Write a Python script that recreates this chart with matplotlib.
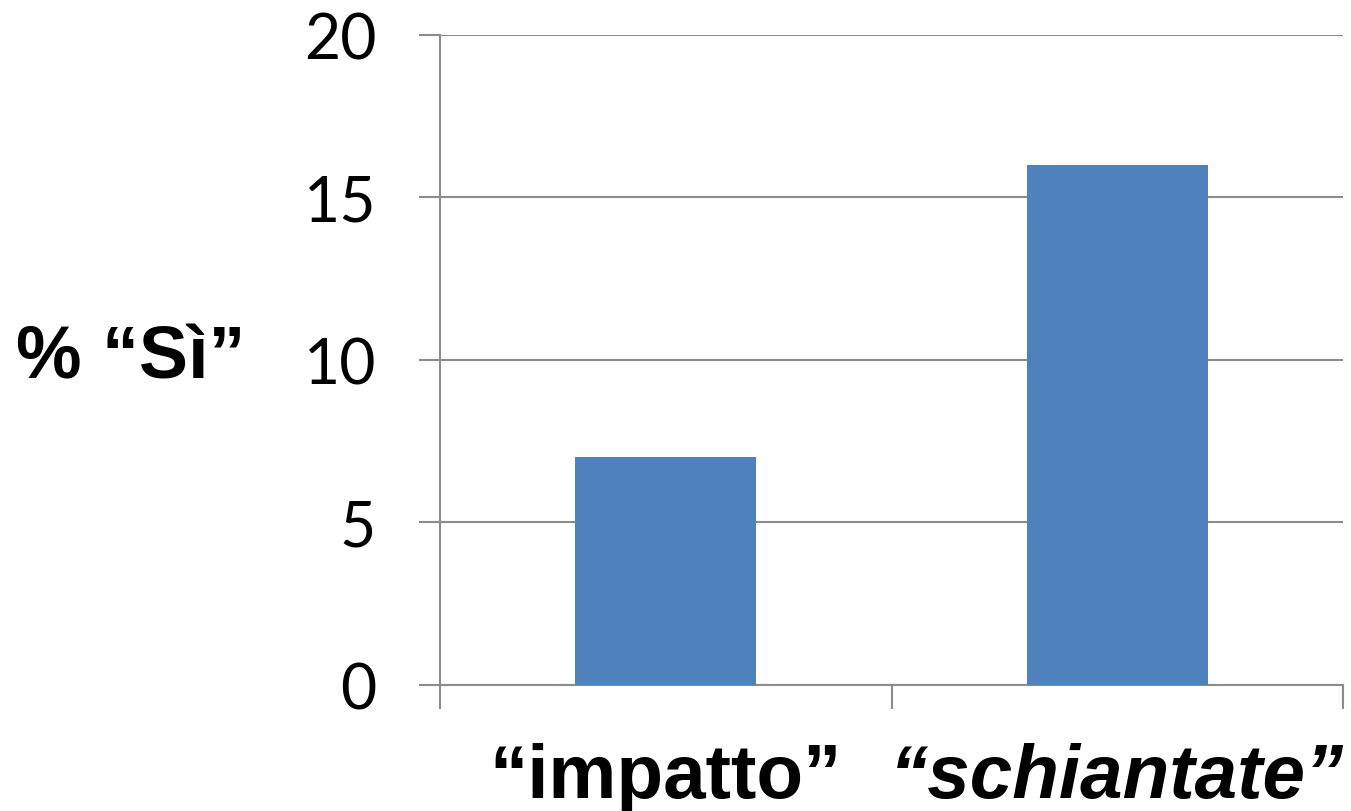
import numpy as np
import matplotlib.pyplot as plt

# survey results: share of "yes" answers per verb used in the question
categories = ['\u201cimpatto\u201d', '\u201cschiantate\u201d']
percent_yes = [7, 16]
yticks = [0, 5, 10, 15, 20]

bar_color = '#4F81BD'
grid_color = '#8c8c8c'

fig = plt.figure(figsize=(13.51, 8.12), dpi=100)
ax = fig.add_axes([0.3257, 0.1552, 0.9941 - 0.3257, 0.9557 - 0.1552])

pos = np.arange(len(categories)) + 0.5
ax.bar(pos, percent_yes, width=0.4, color=bar_color, zorder=3)

ax.set_xlim(0, len(categories))
ax.set_ylim(0, 20)
ax.set_yticks(yticks)
ax.yaxis.grid(True, color=grid_color, linewidth=1.5, zorder=0)
ax.tick_params(axis='y', direction='out', length=15, width=1.5, color=grid_color,
               pad=31, labelsize=45)
for lab in ax.get_yticklabels():
    lab.set_family('Lato')

# category boundaries get the tick marks, names sit in between
ax.set_xticks(np.arange(len(categories) + 1))
ax.set_xticklabels([])
ax.tick_params(axis='x', which='major', direction='out', length=17, width=1.5, color=grid_color)
ax.set_xticks(pos, minor=True)
ax.set_xticklabels(categories, minor=True)
ax.tick_params(axis='x', which='minor', length=0, pad=41)
for lab, style in zip(ax.get_xticklabels(minor=True), ['normal', 'italic']):
    lab.set_family('Liberation Sans')
    lab.set_fontweight('bold')
    lab.set_fontsize(55)
    lab.set_style(style)

for side in ['top', 'right']:
    ax.spines[side].set_visible(False)
for side in ['left', 'bottom']:
    ax.spines[side].set_color(grid_color)
    ax.spines[side].set_linewidth(1.5)

fig.text(0.097, 0.558, '% \u201cS\u00ec\u201d', ha='center', va='center',
         family='Liberation Sans', fontweight='bold', fontsize=53)

fig.savefig('out.png', dpi=100)
